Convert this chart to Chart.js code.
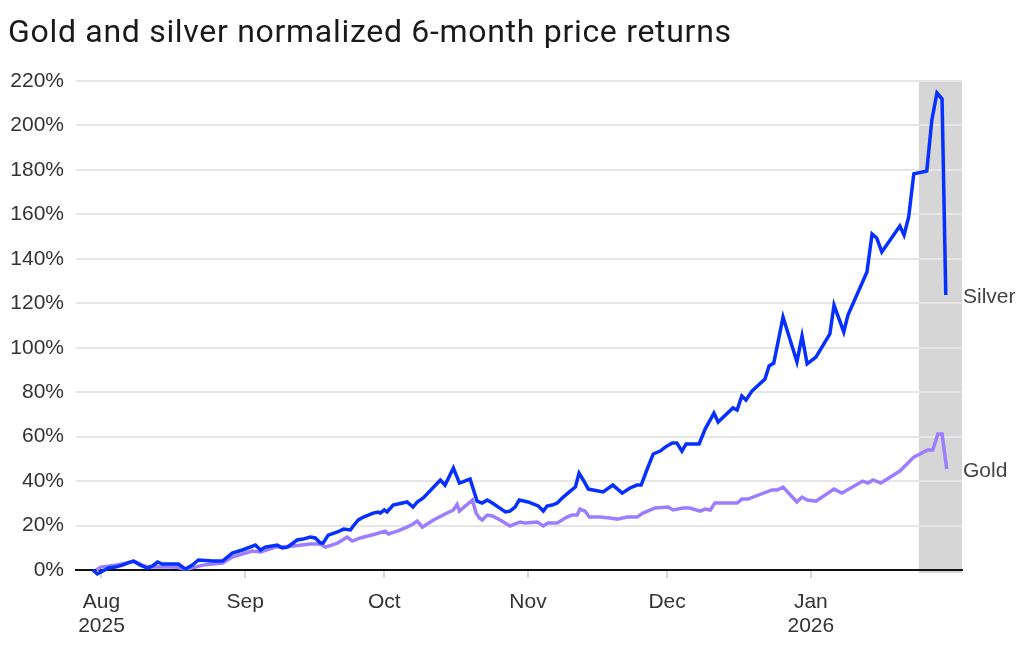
<!DOCTYPE html>
<html>
<head>
<meta charset="utf-8">
<title>Gold and silver normalized 6-month price returns</title>
<script src="https://cdn.jsdelivr.net/npm/chart.js@4.4.1/dist/chart.umd.min.js"></script>
<style>
  body { margin: 0; background: #fff; }
  #wrap { position: relative; width: 1024px; height: 650px; }
  #title {
    position: absolute; left: 8px; top: 12px; margin: 0;
    font: 400 32px Roboto, "Liberation Sans", sans-serif;
    color: #1a1a1a; letter-spacing: 0.7px; white-space: nowrap;
  }
  canvas { position: absolute; left: 0; top: 0; }
</style>
</head>
<body>
<div id="wrap">
  <canvas id="chart" width="1024" height="650"></canvas>
  <h1 id="title">Gold and silver normalized 6-month price returns</h1>
</div>
<script>
// x values are days since 2025-08-01, y values are returns in %
const silverDays = [-1.9, -0.9, 1.5, 3.0, 4.5, 5.6, 6.9, 8.4, 9.9, 11.0, 12.1, 13.1, 16.6, 18.1, 19.6, 20.9, 23.9, 26.1, 28.2, 30.4,
  33.2, 34.3, 35.3, 37.9, 39.0, 40.1, 42.2, 43.5, 45.0, 46.1, 47.2, 47.8, 48.9, 50.9, 52.2, 53.7, 54.3, 55.4, 56.5, 58.6,
  59.7, 60.1, 61.0, 61.6, 62.9, 65.9, 67.2, 68.1, 69.4, 73.1, 74.1, 75.9, 77.2, 79.5, 81.0, 82.1, 83.2, 84.3, 85.6, 87.1,
  88.1, 89.2, 90.1, 92.0, 94.2, 95.3, 96.1, 97.2, 98.3, 99.6, 101.1, 102.2, 103.0, 103.9, 105.0, 106.0, 108.2, 110.3, 112.3, 114.0,
  115.5, 116.4, 117.7, 119.0, 120.5, 121.6, 123.1, 124.1, 125.2, 126.1, 128.9, 130.2, 132.1, 133.0, 136.2, 137.1, 138.1, 139.0, 140.3, 143.1,
  144.0, 145.0, 147.0, 150.0, 151.1, 152.2, 154.1, 157.1, 158.0, 160.1, 161.0, 165.1, 166.2, 167.2, 168.3, 172.2, 173.1, 174.1, 175.2, 178.0,
  179.1, 180.2, 181.3, 182.1];
const silverValues = [0, -1.8, 0.9, 1.3, 2.2, 3.1, 4.0, 2.2, 0.9, 1.8, 3.6, 2.7, 2.7, 0.4, 2.2, 4.5, 4.0, 4.0, 7.6, 9.0,
  11.2, 9.0, 10.3, 11.2, 9.9, 10.3, 13.5, 13.9, 14.8, 14.4, 12.1, 12.1, 15.7, 17.1, 18.4, 18.0, 19.8, 22.5, 23.8, 25.6,
  26.1, 25.6, 27.0, 26.1, 29.2, 30.6, 28.3, 30.6, 32.4, 40.5, 38.2, 45.9, 39.1, 40.9, 31.0, 30.1, 31.5, 30.1, 28.3, 26.1,
  26.5, 28.3, 31.5, 30.6, 28.8, 26.5, 28.8, 29.2, 30.1, 32.8, 35.5, 37.3, 43.6, 40.5, 36.4, 36.0, 35.1, 38.2, 34.6, 36.9,
  38.2, 38.2, 45.4, 52.2, 53.5, 55.3, 57.1, 57.1, 53.5, 56.7, 56.7, 63.4, 70.6, 66.6, 72.9, 72.0, 78.3, 76.5, 80.5, 85.9,
  91.8, 93.1, 113.8, 93.6, 105.3, 92.7, 95.8, 106.2, 119.2, 107.1, 114.7, 134.1, 151.2, 149.4, 143.1, 154.8, 150.7, 158.8, 178.2, 179.5,
  202.5, 214.6, 211.9, 123.7];

const goldDays = [-1.1, -0.2, 3.0, 5.2, 6.9, 8.8, 10.1, 12.3, 15.9, 18.1, 20.3, 21.8, 26.1, 28.2, 32.5, 34.3, 37.5, 38.6, 41.4, 45.0,
  47.2, 48.3, 50.9, 53.0, 54.1, 55.8, 59.1, 61.2, 61.9, 63.8, 65.9, 67.2, 68.1, 69.2, 71.6, 74.1, 75.9, 76.7, 77.2, 80.0,
  80.8, 81.5, 82.1, 83.2, 84.3, 86.0, 88.1, 90.3, 91.4, 94.0, 95.3, 96.3, 98.3, 100.4, 101.5, 102.6, 103.2, 104.3, 105.2, 107.5,
  109.7, 111.2, 113.4, 115.5, 116.8, 119.4, 122.2, 123.3, 125.4, 126.9, 129.1, 130.2, 131.3, 132.3, 134.9, 137.1, 138.1, 139.4, 144.6, 145.7,
  147.0, 150.0, 151.1, 152.2, 154.1, 158.0, 159.7, 164.2, 165.3, 166.4, 168.1, 172.2, 175.2, 178.2, 179.3, 180.4, 181.3, 182.3];
const goldValues = [0, 1.3, 2.2, 3.1, 4.0, 2.2, 1.3, 1.3, 1.3, 0.4, 1.3, 2.2, 3.1, 5.8, 8.5, 8.1, 10.3, 10.3, 10.8, 11.7,
  11.7, 10.3, 12.1, 14.8, 13.0, 14.4, 16.2, 17.5, 16.2, 17.5, 19.3, 20.7, 22.0, 19.3, 22.5, 25.2, 27.0, 29.5, 26.5, 31.5,
  25.6, 23.4, 22.5, 24.7, 24.3, 22.5, 19.8, 21.6, 21.1, 21.6, 19.8, 21.1, 21.1, 23.8, 24.7, 24.7, 27.4, 26.5, 23.8, 23.8,
  23.4, 22.9, 23.8, 23.8, 25.6, 27.9, 28.3, 27.0, 27.9, 27.9, 26.5, 27.4, 27.0, 30.1, 30.1, 30.1, 31.9, 31.9, 36.0, 36.0,
  37.3, 30.6, 32.8, 31.5, 31.0, 36.4, 34.6, 40.0, 39.1, 40.5, 39.1, 44.5, 50.8, 54.0, 54.0, 61.2, 61.2, 45.4];

// month ticks (days since 2025-08-01) and their labels
const monthDays = [0, 31, 61, 92, 122, 153];
const monthLabels = [['Aug', '2025'], 'Sep', 'Oct', 'Nov', 'Dec', ['Jan', '2026']];
const yTicks = [0, 20, 40, 60, 80, 100, 120, 140, 160, 180, 200, 220];

// shaded last week
const bandStart = 176.3;
const bandEnd = 185.6;

const seriesNames = ['Silver', 'Gold'];
const seriesColors = ['#0630ff', '#9c7dff'];

const toPoints = (days, values) => days.map((d, i) => ({ x: d, y: values[i] }));

const bandPlugin = {
  id: 'band',
  beforeDraw(chart) {
    const { ctx, chartArea, scales } = chart;
    const x0 = scales.x.getPixelForValue(bandStart);
    const x1 = Math.min(scales.x.getPixelForValue(bandEnd), chartArea.right);
    ctx.save();
    ctx.fillStyle = '#d6d6d6';
    ctx.fillRect(x0, chartArea.top, x1 - x0, chartArea.bottom - chartArea.top + 3);
    ctx.restore();
  },
  afterDraw(chart) {
    const { ctx, chartArea, scales } = chart;
    ctx.save();
    ctx.font = '21px "Liberation Sans", Arial, sans-serif';
    ctx.fillStyle = '#444';
    ctx.textAlign = 'left';
    ctx.textBaseline = 'middle';
    chart.data.datasets.forEach((ds) => {
      const last = ds.data[ds.data.length - 1];
      ctx.fillText(ds.label, chartArea.right + 1, scales.y.getPixelForValue(last.y) + 2);
    });
    ctx.restore();
  },
};

const tickFont = { family: '"Liberation Sans", Arial, sans-serif', size: 21 };

new Chart(document.getElementById('chart'), {
  type: 'line',
  data: {
    datasets: [
      {
        label: seriesNames[0],
        data: toPoints(silverDays, silverValues),
        borderColor: seriesColors[0],
        borderWidth: 3.5,
        pointRadius: 0,
        tension: 0,
        clip: 8,
      },
      {
        label: seriesNames[1],
        data: toPoints(goldDays, goldValues),
        borderColor: seriesColors[1],
        borderWidth: 3.5,
        pointRadius: 0,
        tension: 0,
        clip: 8,
      },
    ],
  },
  options: {
    responsive: false,
    animation: false,
    devicePixelRatio: 1,
    layout: { padding: { top: 81, right: 62, left: 0, bottom: 0 } },
    plugins: { legend: { display: false }, tooltip: { enabled: false } },
    scales: {
      x: {
        type: 'linear',
        min: -5.5,
        max: 185.6,
        afterBuildTicks: (scale) => { scale.ticks = monthDays.map((v) => ({ value: v })); },
        afterFit: (scale) => { scale.height = 80; },
        ticks: {
          autoSkip: false,
          maxRotation: 0,
          padding: 12,
          color: '#333',
          font: { ...tickFont, lineHeight: 1.15 },
          callback: (value, index) => monthLabels[index],
        },
        grid: { drawOnChartArea: false, drawTicks: true, tickLength: 8, color: '#d9d9d9', lineWidth: 2 },
        border: { display: true, color: '#111', width: 2 },
      },
      y: {
        min: 0,
        max: 220,
        afterBuildTicks: (scale) => { scale.ticks = yTicks.map((v) => ({ value: v })); },
        afterFit: (scale) => { scale.width = 76; },
        ticks: {
          padding: 12,
          color: '#333',
          font: tickFont,
          callback: (value) => value + '%',
        },
        grid: {
          drawTicks: false,
          lineWidth: 2,
          color: (c) => (c.tick && c.tick.value === 0 ? 'rgba(0,0,0,0)' : '#e6e6e6'),
        },
        border: { display: false },
      },
    },
  },
  plugins: [bandPlugin],
});
</script>
</body>
</html>
